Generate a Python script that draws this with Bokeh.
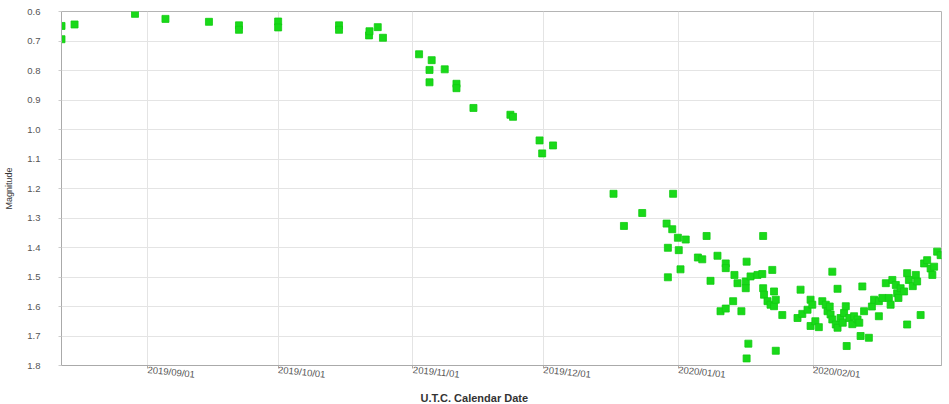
from datetime import datetime, timedelta
from bokeh.plotting import figure
from bokeh.models import Range1d, FixedTicker, Title, DatetimeTickFormatter, NumeralTickFormatter, ColumnDataSource
from bokeh.embed import file_html
from bokeh.resources import INLINE

days = [-19.8, -19.8, -16.8, -2.9, 4.1, 14.1, 21.0, 21.0, 30.0, 30.0, 44.0, 44.0,
        50.9, 51.0, 52.9, 54.1, 62.4, 64.8, 64.8, 65.3, 68.3, 71.0, 71.0, 74.9,
        83.4, 84.0, 90.1, 90.7, 93.2, 107.1, 109.5, 113.7, 119.3, 119.6, 119.6,
        120.6, 120.8, 121.9, 122.1, 122.5, 123.7, 126.5, 127.5, 128.5, 129.4,
        131.0, 131.7, 132.9, 132.9, 132.9, 134.6, 134.9, 135.6, 136.5, 137.5,
        137.5, 137.7, 137.7, 138.1, 138.6, 140.2, 141.3, 141.5, 141.5, 141.7,
        142.5, 143.2, 143.6, 144.0, 144.0, 144.4, 144.4, 145.9, 149.4, 150.1,
        150.5, 151.7, 152.4, 152.4, 152.8, 153.5, 154.3, 155.1, 155.9, 156.3,
        156.8, 157.0, 157.4, 157.4, 158.2, 158.6, 158.6, 159.3, 159.8, 160.1,
        160.5, 160.7, 161.3, 162.0, 162.4, 163.2, 163.6, 163.9, 164.3, 164.7,
        165.8, 166.5, 167.0, 168.1, 168.1, 168.9, 169.7, 170.4, 170.8, 171.2,
        172.0, 172.3, 172.6, 173.1, 173.9, 174.6, 174.6, 175.0, 175.9, 176.6,
        176.9, 177.7, 178.5, 179.2, 180.0, 180.4, 180.8, 181.5, 182.3]
mags = [0.649, 0.694, 0.644, 0.608, 0.625, 0.635, 0.647, 0.662, 0.634, 0.654, 0.647, 0.662,
        0.681, 0.667, 0.653, 0.689, 0.745, 0.798, 0.840, 0.765, 0.796, 0.845, 0.860, 0.927,
        0.950, 0.957, 1.037, 1.081, 1.054, 1.218, 1.327, 1.283, 1.319, 1.401, 1.501,
        1.338, 1.218, 1.367, 1.409, 1.474, 1.373, 1.434, 1.440, 1.361, 1.513,
        1.428, 1.616, 1.454, 1.470, 1.607, 1.582, 1.493, 1.521, 1.616, 1.515,
        1.538, 1.448, 1.776, 1.726, 1.498, 1.493, 1.490, 1.361, 1.538, 1.560,
        1.582, 1.594, 1.476, 1.549, 1.599, 1.577, 1.750, 1.629, 1.639, 1.543,
        1.625, 1.611, 1.577, 1.666, 1.594, 1.650, 1.670, 1.582, 1.594, 1.616,
        1.600, 1.627, 1.644, 1.482, 1.661, 1.672, 1.540, 1.639, 1.655, 1.622,
        1.599, 1.734, 1.639, 1.660, 1.633, 1.644, 1.655, 1.700, 1.532, 1.616,
        1.706, 1.600, 1.577, 1.582, 1.633, 1.571, 1.521, 1.571, 1.594, 1.510,
        1.527, 1.555, 1.571, 1.538, 1.549, 1.487, 1.661, 1.510, 1.531, 1.493,
        1.515, 1.629, 1.454, 1.443, 1.471, 1.493, 1.465, 1.414, 1.426]

tick_dates = ["2019-09-01", "2019-10-01", "2019-11-01", "2019-12-01", "2020-01-01", "2020-02-01"]
y_ticks = [0.6, 0.7, 0.8, 0.9, 1.0, 1.1, 1.2, 1.3, 1.4, 1.5, 1.6, 1.7, 1.8]

base = datetime(2019, 9, 1)
epoch = datetime(1970, 1, 1)
xs = [base + timedelta(days=d) for d in days]
src = ColumnDataSource(dict(x=xs, y=mags))
x_tick_ms = [(datetime.strptime(t, "%Y-%m-%d") - epoch).total_seconds() * 1000 for t in tick_dates]

p = figure(width=943, height=404, x_axis_type="datetime", output_backend="svg",
           toolbar_location=None,
           x_range=Range1d(base + timedelta(days=-19.8), base + timedelta(days=182.5)),
           y_range=Range1d(1.8, 0.6),
           min_border_left=61, min_border_top=11, min_border_right=2, min_border_bottom=0)

p.scatter("x", "y", source=src, marker="square", size=7,
          fill_color="#19d919", line_color="#12cc12", line_width=0.8)

p.outline_line_color = "#b4b4b4"
p.background_fill_color = "white"
p.grid.grid_line_color = "#e4e4e4"

fmt = "%Y/%m/%d"
p.xaxis.ticker = FixedTicker(ticks=x_tick_ms)
p.xgrid.ticker = FixedTicker(ticks=x_tick_ms)
p.xaxis.formatter = DatetimeTickFormatter(years=fmt, months=fmt, days=fmt, hours=fmt,
                                          minutes=fmt, seconds=fmt, milliseconds=fmt,
                                          microseconds=fmt, minsec=fmt, hourmin=fmt)
p.xaxis.major_label_orientation = -0.1
p.xaxis.major_label_text_font = "Liberation Sans"
p.xaxis.major_label_text_font_size = "9.5px"
p.xaxis.major_label_text_color = "#555555"
p.xaxis.major_label_standoff = 1
p.xaxis.major_tick_out = 3
p.xaxis.major_tick_in = 0
p.xaxis.minor_tick_out = 0
p.xaxis.minor_tick_in = 0
p.xaxis.axis_line_color = "#aaaaaa"
p.xaxis.major_tick_line_color = "#aaaaaa"

p.yaxis.ticker = FixedTicker(ticks=y_ticks)
p.ygrid.ticker = FixedTicker(ticks=y_ticks)
p.yaxis.formatter = NumeralTickFormatter(format="0.0")
p.yaxis.major_label_text_font = "Liberation Sans"
p.yaxis.major_label_text_font_size = "9.5px"
p.yaxis.major_label_text_color = "#555555"
p.yaxis.major_label_standoff = 18
p.yaxis.major_tick_out = 3
p.yaxis.major_tick_in = 0
p.yaxis.minor_tick_out = 0
p.yaxis.minor_tick_in = 0
p.yaxis.axis_line_color = "#aaaaaa"
p.yaxis.major_tick_line_color = "#cccccc"
p.yaxis.axis_label = "Magnitude"
p.yaxis.axis_label_text_font = "Liberation Sans"
p.yaxis.axis_label_text_font_size = "9px"
p.yaxis.axis_label_text_font_style = "normal"
p.yaxis.axis_label_text_color = "#333333"
p.yaxis.axis_label_standoff = 10

p.add_layout(Title(text="U.T.C. Calendar Date", align="left", offset=359, standoff=2,
                   text_font="Liberation Sans", text_font_size="11px",
                   text_font_style="bold", text_color="#333333"), "below")

open("out.html", "w").write(file_html(p, INLINE))
